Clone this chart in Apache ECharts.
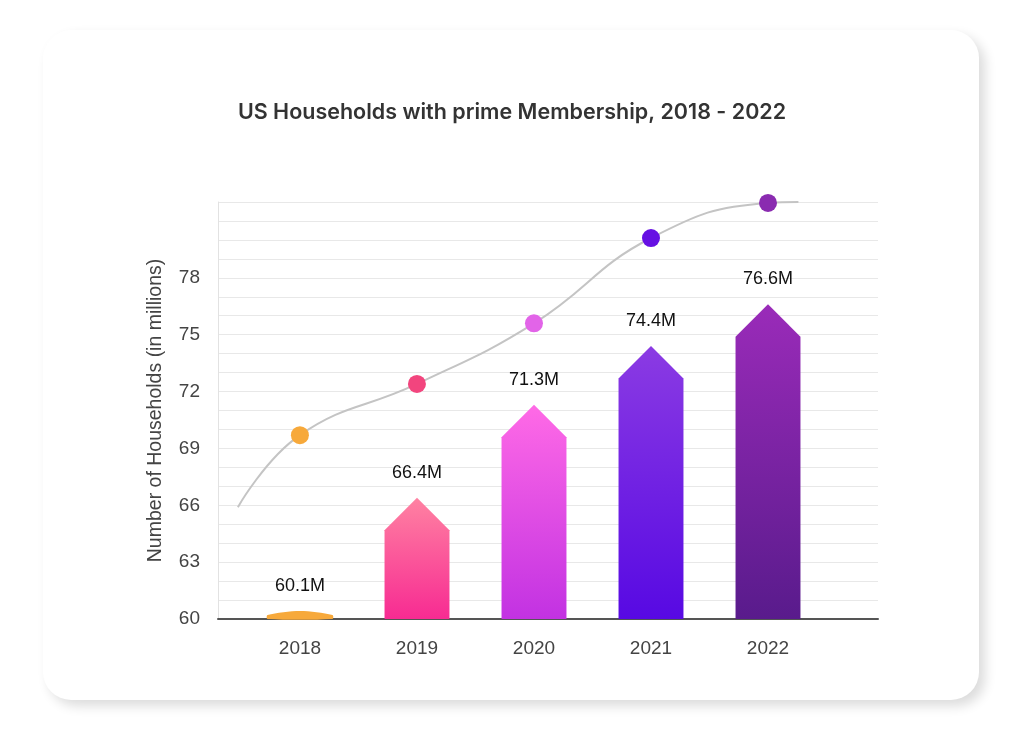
<!DOCTYPE html>
<html>
<head>
<meta charset="utf-8">
<title>US Households with prime Membership</title>
<script src="https://cdn.jsdelivr.net/npm/echarts@6/dist/echarts.min.js"></script>
<style>
html, body { margin: 0; padding: 0; background: #fff; }
#chart { width: 1024px; height: 732px; }
</style>
</head>
<body>
<div id="chart"></div>
<script>
// data
var years = ['2018', '2019', '2020', '2021', '2022'];
var households = [60.1, 66.4, 71.3, 74.4, 76.6];
var trendDots = [69.7, 72.4, 75.6, 80.1, 81.95];
// curve runs a little past the first and last dot
var trendLine = [[-0.53, 65.9], [0, 69.7], [1, 72.4], [2, 75.6], [3, 80.1], [4, 81.95], [4.26, 82]];
var yTicks = [60, 63, 66, 69, 72, 75, 78];

var barTop = ['#F7A93B', '#FF82A2', '#FF6AE6', '#8B3BE3', '#9A2BB9'];
var barBottom = ['#F7A93B', '#F72B92', '#C232E2', '#5709E3', '#591B8C'];
var dotColors = ['#F7A93B', '#F2457E', '#E264E8', '#6610E3', '#8A2BB0'];

var chart = echarts.init(document.getElementById('chart'));

function arrowBar(params, api) {
	var i = api.value(0);
	var tip = api.coord([i, api.value(1)]);
	var base = api.coord([i, 60]);
	var w = api.size([1, 0])[0] * 0.555;
	var half = w / 2;
	var x = tip[0];
	var h = Math.max(base[1] - tip[1], 8);
	var tipY = base[1] - h;
	var head = half;
	var shoulderY = h > head ? tipY + head : base[1] - h / 2;
	return {
		type: 'group',
		children: [{
			type: 'polygon',
			shape: {
				points: [[x - half, base[1]], [x - half, shoulderY], [x, tipY],
					[x + half, shoulderY], [x + half, base[1]]],
				smooth: h > head ? 0 : 0.3
			},
			style: {
				fill: new echarts.graphic.LinearGradient(0, 0, 0, 1, [
					{offset: 0, color: barTop[i]},
					{offset: 1, color: barBottom[i]}
				])
			}
		}, {
			type: 'text',
			x: x,
			y: tipY - 25,
			style: {
				text: households[i] + 'M',
				align: 'center',
				verticalAlign: 'middle',
				fill: '#111',
				font: '18px "Liberation Sans", Arial, sans-serif'
			}
		}]
	};
}

var option = {
	backgroundColor: '#fff',
	graphic: [{
		type: 'rect',
		z: -100,
		shape: {x: 43, y: 30, width: 936, height: 670, r: 28},
		style: {
			fill: '#fff',
			shadowBlur: 12,
			shadowOffsetX: 6,
			shadowOffsetY: 6,
			shadowColor: 'rgba(0,0,0,0.14)'
		}
	}],
	title: {
		text: 'US Households with prime Membership, 2018 - 2022',
		left: 'center',
		top: 97,
		textStyle: {
			fontFamily: 'Inter',
			fontWeight: 600,
			fontSize: 21.5,
			color: '#333'
		}
	},
	grid: [
		{left: 218, right: 146, top: 202, bottom: 113},
		{left: 241.5, right: 197.5, top: 202, bottom: 113}
	],
	xAxis: [{
		gridIndex: 0,
		type: 'value',
		min: -0.7,
		max: 4.94,
		axisLine: {show: true, lineStyle: {color: '#555', width: 2}},
		axisTick: {show: false},
		axisLabel: {show: false},
		splitLine: {show: false}
	}, {
		gridIndex: 1,
		type: 'category',
		data: years,
		axisLine: {show: false},
		axisTick: {show: false},
		axisLabel: {
			margin: 20,
			fontSize: 19,
			color: '#444',
			fontFamily: '"Liberation Sans", Arial, sans-serif'
		}
	}],
	yAxis: [{
		gridIndex: 0,
		type: 'value',
		min: 60,
		max: 82,
		interval: 1,
		name: 'Number of Households (in millions)',
		nameLocation: 'middle',
		nameGap: 52,
		nameTextStyle: {
			fontSize: 19.5,
			color: '#444',
			fontFamily: '"Liberation Sans", Arial, sans-serif'
		},
		axisLine: {show: true, onZero: false, lineStyle: {color: '#e2e2e2'}},
		axisTick: {show: false},
		axisLabel: {
			margin: 18,
			fontSize: 19,
			color: '#444',
			fontFamily: '"Liberation Sans", Arial, sans-serif',
			formatter: function(v) {
				return yTicks.indexOf(v) >= 0 ? String(v) : '';
			}
		},
		splitLine: {lineStyle: {color: '#e8e8e8'}}
	}, {
		gridIndex: 1,
		type: 'value',
		min: 60,
		max: 82,
		interval: 1,
		show: false
	}],
	series: [{
		type: 'custom',
		xAxisIndex: 1,
		yAxisIndex: 1,
		renderItem: arrowBar,
		encode: {x: 0, y: 1},
		data: households.map(function(v, i) { return [i, v]; }),
		z: 2
	}, {
		type: 'line',
		xAxisIndex: 0,
		yAxisIndex: 0,
		smooth: 0.45,
		showSymbol: false,
		silent: true,
		clip: false,
		lineStyle: {color: '#c4c4c4', width: 2},
		data: trendLine,
		z: 3
	}, {
		type: 'scatter',
		xAxisIndex: 0,
		yAxisIndex: 0,
		symbolSize: 18,
		data: trendDots.map(function(v, i) {
			return {value: [i, v], itemStyle: {color: dotColors[i], opacity: 1}};
		}),
		z: 4
	}]
};

chart.setOption(option);
</script>
</body>
</html>
